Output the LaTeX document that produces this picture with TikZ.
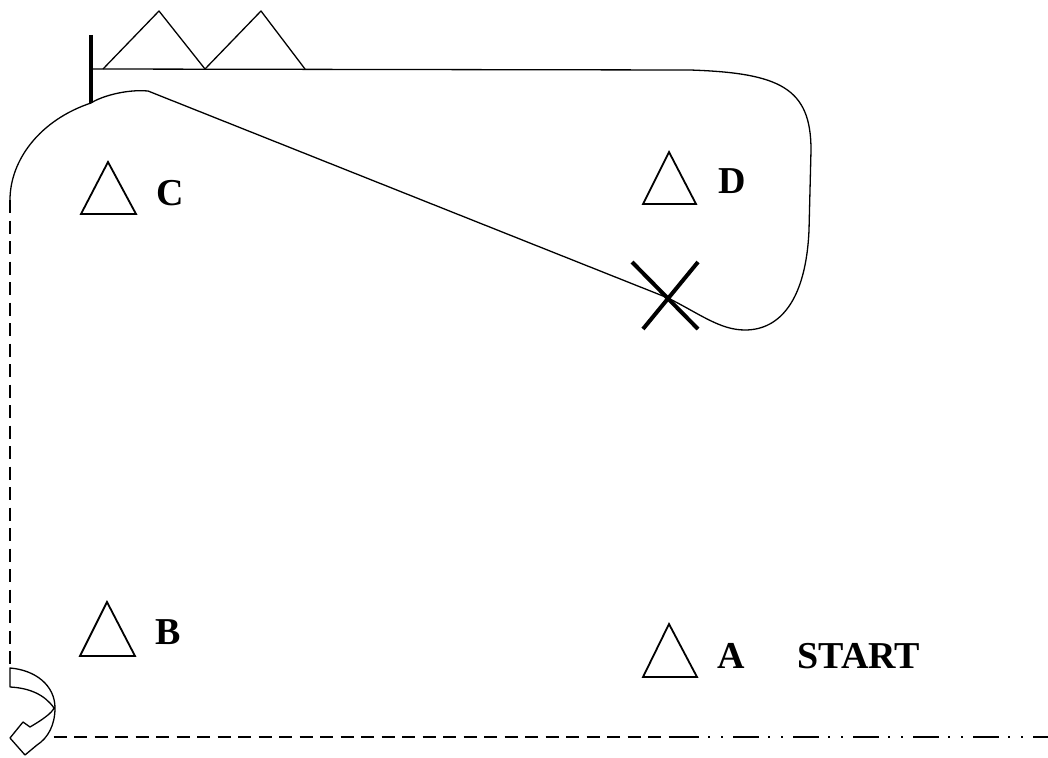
\documentclass[tikz,border=0pt]{standalone}
\usepackage{fontspec}
\setmainfont{Liberation Serif}
\begin{document}
\begin{tikzpicture}[x=1pt,y=-1pt,
  thin line/.style={line width=1.3pt, line join=round},
  tri/.style={line width=1.8pt, line join=miter},
  thick bar/.style={line width=4pt},
  label/.style={font=\fontsize{38}{40}\selectfont\bfseries, inner sep=0pt},
  dashline/.style={line width=1.6pt, dash pattern=on 13pt off 7.5pt},
  dashdot/.style={line width=2.2pt, dash pattern=on 26pt off 9pt on 2pt off 11pt on 2pt off 10pt}]
\useasboundingbox (0,0) rectangle (1048,757);
% named points
\coordinate (barTop) at (91,35);
\coordinate (barBot) at (91,103);
\coordinate (peak) at (148,91);
\coordinate (xc) at (668,298);
\coordinate (arcEnd) at (10,200);
\coordinate (vdEnd) at (10,668);
\coordinate (hdStart) at (33,737);
\coordinate (hdMid) at (673,737);
\coordinate (hdEnd) at (1048,737);
% top bar and line
\draw[thick bar] (barTop) -- (barBot);
\draw[thin line] (93,69) -- (690,70) .. controls (780,73) and (811,88) .. (811,150)
  -- (809,230) .. controls (806,300) and (780,330) .. (745,330)
  .. controls (720,330) and (700,314) .. (xc) -- (peak)
  .. controls (125,89) and (100,97) .. (barBot)
  .. controls (40,120) and (10,160) .. (arcEnd);
% triangles on the top line
\draw[thin line] (103,69) -- (159,11) -- (205,69) -- (261,11) -- (305,69);
% X mark
\draw[thick bar] (632,262) -- (698,329);
\draw[thick bar] (698,262) -- (643,329);
% small triangles
\draw[tri] (108,162) -- (136,214) -- (81,214) -- cycle;
\draw[tri] (669,152) -- (696,204) -- (643,204) -- cycle;
\draw[tri] (107,602) -- (135,656) -- (80,656) -- cycle;
\draw[tri] (669,624) -- (697,677) -- (643,677) -- cycle;
% labels
\node[label] (C) at (170,193) {C};
\node[label] (D) at (732,181) {D};
\node[label] (B) at (168,632) {B};
\node[label] (A) at (731,656) {A};
\node[label] (S) at (859,656) {START};
% dashed paths
\draw[dashline] (arcEnd) -- (vdEnd);
\draw[dashline] (hdStart) -- (hdMid);
\draw[dashdot] (hdMid) -- (hdEnd);
% curved hollow arrow
\draw[thin line, fill=white] (10,668) .. controls (35,670) and (55,685) .. (55,708)
  .. controls (55,725) and (48,738) .. (37,745) -- (25,755) -- (10,738) -- (23,722) -- (30,727)
  .. controls (42,720) and (52,713) .. (54,708)
  .. controls (45,695) and (30,688) .. (10,687) -- cycle;
\end{tikzpicture}
\end{document}
